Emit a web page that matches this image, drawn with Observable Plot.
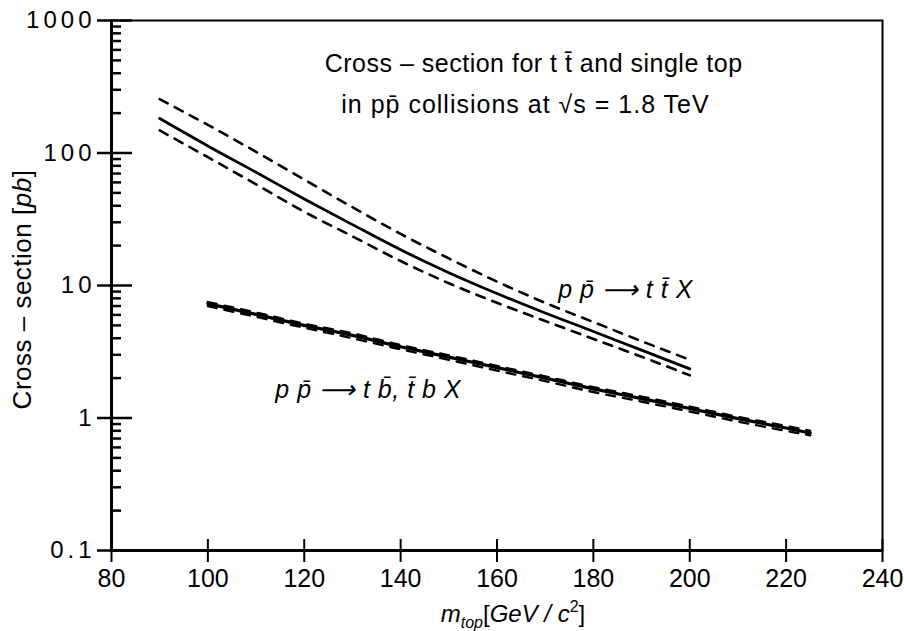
<!DOCTYPE html>
<html><head><meta charset="utf-8">
<script src="https://cdn.jsdelivr.net/npm/d3@7"></script>
<script src="https://cdn.jsdelivr.net/npm/@observablehq/plot@0.6"></script>
<style>
body{margin:0;background:#fff;}
g[aria-label="y-axis tick label"] text{letter-spacing:4px;}
</style></head><body><div id="chart"></div>
<script>
// ---- data ----
const ttMass    = [90, 100, 110, 120, 130, 140, 150, 160, 170, 180, 190, 200];
const ttCentral = [182, 113, 71.5, 45, 28.8, 18.6, 12.5, 8.7, 6.2, 4.5, 3.25, 2.35];
const ttUpper   = [255, 163, 102, 63, 39, 24.5, 16, 10.7, 7.4, 5.3, 3.8, 2.75];
const ttLower   = [148, 93, 58, 36, 23.5, 15.3, 10.4, 7.4, 5.4, 3.95, 2.9, 2.1];

const stMass    = [100, 110, 120, 130, 140, 150, 160, 170, 180, 190, 200, 210, 220, 225];
const stCentral = [7.3, 6.05, 5.0, 4.2, 3.45, 2.88, 2.4, 2.0, 1.66, 1.4, 1.18, 0.99, 0.84, 0.77];
const stUpper   = [7.5, 6.25, 5.15, 4.35, 3.55, 2.97, 2.47, 2.06, 1.71, 1.45, 1.22, 1.02, 0.87, 0.8];
const stLower   = [7.0, 5.8, 4.8, 4.0, 3.3, 2.75, 2.28, 1.9, 1.57, 1.33, 1.12, 0.94, 0.8, 0.74];

const xDomain = [80, 240];
const yDomain = [0.1, 1000];
const xTicks = [80, 100, 120, 140, 160, 180, 200, 220, 240];
const yTicks = [0.1, 1, 10, 100, 1000];
const yTickLabels = ["0.1", "1", "10", "100", "1000"];
const yMinorTicks = [0.2,0.3,0.4,0.5,0.6,0.7,0.8,0.9, 2,3,4,5,6,7,8,9, 20,30,40,50,60,70,80,90, 200,300,400,500,600,700,800,900];

const titleLine1 = "Cross \u2013 section for t t\u0304 and single top";
const titleLine2 = "in pp\u0304 collisions at \u221As = 1.8 TeV";
const ttLabel = "p p\u0304 \u27F6 t t\u0304 X";
const stLabel = "p p\u0304 \u27F6 t b\u0304, t\u0304 b X";
const xTitle = "mtop[GeV / c2]";
const yTitle = "Cross \u2013 section [pb]";

const rows = (xs, ys) => xs.map((x, i) => ({x, y: ys[i]}));
const font = "Liberation Sans, Arial, Helvetica, sans-serif";

const chart = Plot.plot({
  width: 904, height: 631,
  marginLeft: 111, marginRight: 22, marginTop: 20, marginBottom: 81,
  x: {domain: xDomain},
  y: {type: "log", domain: yDomain},
  style: {fontFamily: font, color: "#000", background: "#fff"},
  marks: [
    Plot.frame({stroke: "#000", strokeWidth: 2}),
    Plot.axisY({ticks: yMinorTicks, tickSize: 10, dx: 10, tickFormat: () => "", strokeWidth: 2.5, label: null}),
    Plot.axisY({ticks: yTicks, tickSize: 21, dx: 21, tickFormat: () => "", strokeWidth: 2.5, label: null}),
    Plot.axisY({ticks: yTicks, tickSize: 14, tickPadding: 2, tickFormat: d => yTickLabels[yTicks.indexOf(d)], fontSize: 24, strokeWidth: 2.5, label: null}),
    Plot.axisX({ticks: xTicks, tickSize: 11, dy: -11, tickFormat: () => "", strokeWidth: 2, label: null}),
    Plot.axisX({ticks: xTicks, tickSize: 12, tickPadding: 7, fontSize: 25, strokeWidth: 2, label: null}),
    Plot.ruleX([xDomain[0]], {stroke: "#000", strokeWidth: 3}),
    Plot.ruleY([yDomain[0]], {stroke: "#000", strokeWidth: 3}),
    // ttbar
    Plot.line(rows(ttMass, ttCentral), {x: "x", y: "y", curve: "monotone-x", stroke: "#000", strokeWidth: 2.8}),
    Plot.line(rows(ttMass, ttUpper), {x: "x", y: "y", curve: "monotone-x", stroke: "#000", strokeWidth: 2.6, strokeDasharray: "9,8"}),
    Plot.line(rows(ttMass, ttLower), {x: "x", y: "y", curve: "monotone-x", stroke: "#000", strokeWidth: 2.6, strokeDasharray: "9,8"}),
    // single top
    Plot.line(rows(stMass, stUpper), {x: "x", y: "y", curve: "monotone-x", stroke: "#000", strokeWidth: 2.4, strokeDasharray: "9,8"}),
    Plot.line(rows(stMass, stLower), {x: "x", y: "y", curve: "monotone-x", stroke: "#000", strokeWidth: 2.4, strokeDasharray: "9,8"}),
    Plot.line(rows(stMass, stCentral), {x: "x", y: "y", curve: "monotone-x", stroke: "#000", strokeWidth: 3.2}),
    // annotations
    Plot.text([titleLine1], {x: 167.6, y: 473, text: d => d, fontSize: 25, fill: "#000"}),
    Plot.text([titleLine2], {x: 165.9, y: 232, text: d => d, fontSize: 25, fill: "#000"}),
    Plot.text([ttLabel], {x: 172.7, y: 9.3, text: d => d, fontSize: 25, fontStyle: "italic", textAnchor: "start", fill: "#000"}),
    Plot.text([stLabel], {x: 114, y: 1.64, text: d => d, fontSize: 25, fontStyle: "italic", textAnchor: "start", fill: "#000"}),
    Plot.text([xTitle], {frameAnchor: "bottom", textAnchor: "middle", lineAnchor: "middle", dx: 16, dy: 64, text: d => d, fontSize: 24, fill: "#000"}),
    Plot.text([yTitle], {frameAnchor: "left", textAnchor: "middle", lineAnchor: "middle", rotate: -90, dx: -89, dy: 4, text: d => d, fontSize: 26, fill: "#000"})
  ]
});

// rich formatting (sub/superscripts, italics) and letter spacing
d3.select(chart).selectAll("text").each(function() {
  const t = this.textContent;
  const sel = d3.select(this);
  if (t === xTitle) {
    sel.text(null);
    sel.append("tspan").attr("font-style", "italic").text("m");
    sel.append("tspan").attr("font-style", "italic").attr("font-size", 16).attr("dy", 6).text("top");
    sel.append("tspan").attr("dy", -6).text("[");
    sel.append("tspan").attr("font-style", "italic").text("GeV / c");
    sel.append("tspan").attr("font-size", 16).attr("dy", -10).text("2");
    sel.append("tspan").attr("dy", 10).text("]");
  } else if (t === yTitle) {
    sel.text(null).attr("letter-spacing", "0.5px");
    sel.append("tspan").text("Cross \u2013 section [");
    sel.append("tspan").attr("font-style", "italic").text("pb");
    sel.append("tspan").text("]");
  } else if (t === titleLine1) {
    sel.attr("letter-spacing", "0.5px");
  } else if (t === titleLine2) {
    sel.attr("letter-spacing", "1px");
  } else if (t === ttLabel || t === stLabel) {
    sel.attr("letter-spacing", "0.5px");
  }
});

document.getElementById("chart").appendChild(chart);
</script></body></html>
